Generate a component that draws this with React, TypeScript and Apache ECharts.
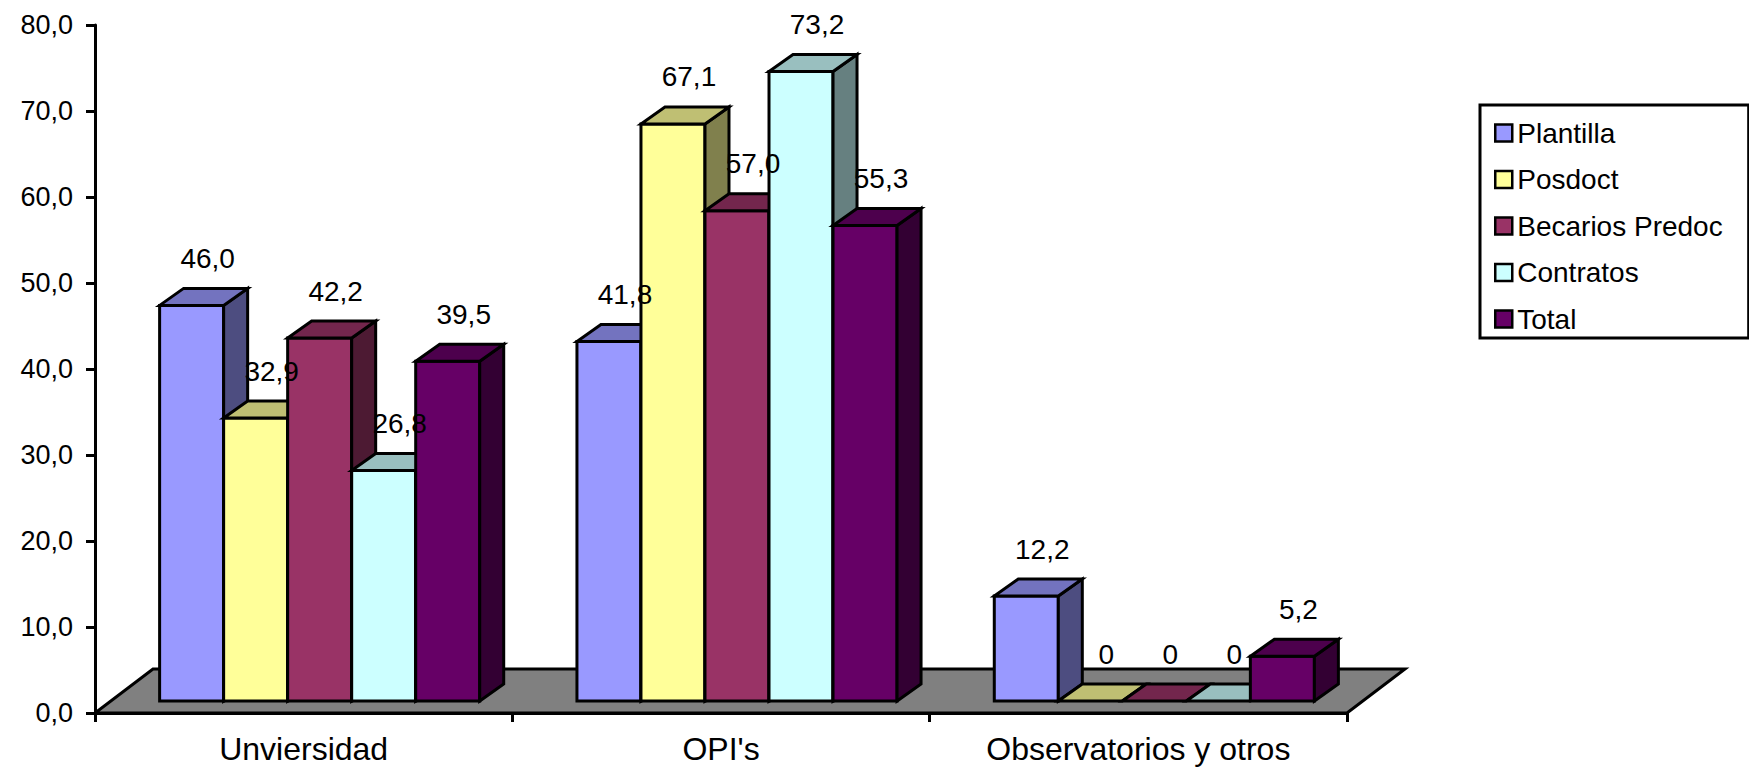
import React, { useEffect, useRef } from 'react';
import * as echarts from 'echarts';

const categories = ['Unviersidad', "OPI's", 'Observatorios y otros'];
const seriesNames = ['Plantilla', 'Posdoct', 'Becarios Predoc', 'Contratos', 'Total'];
const plantilla = [46.0, 41.8, 12.2];
const posdoct = [32.9, 67.1, 0];
const becarios = [42.2, 57.0, 0];
const contratos = [26.8, 73.2, 0];
const total = [39.5, 55.3, 5.2];
const seriesValues = [plantilla, posdoct, becarios, contratos, total];
const seriesColors = ['#9999FF', '#FFFF99', '#993366', '#CCFFFF', '#660066'];

const FONT = '"Liberation Sans", Arial, sans-serif';

// fake 3D geometry (px)
const BAR_RATIO = 0.1534;
const OX = 16; // bar front face offset from axis plane
const OY = 12;
const DX = 24; // bar depth
const DY = 17;
const FLOOR_DX = 58;
const FLOOR_DY = 44;
const EDGE = 3;

const shade = (hex: string, k: number) => {
  const n = parseInt(hex.slice(1), 16);
  const r = Math.round(((n >> 16) & 255) * k);
  const g = Math.round(((n >> 8) & 255) * k);
  const b = Math.round((n & 255) * k);
  return `rgb(${r},${g},${b})`;
};

const fmt = (v: number) => (v === 0 ? '0' : v.toFixed(1).replace('.', ','));

const App: React.FC = () => {
  const chartRef = useRef<HTMLDivElement>(null);

  useEffect(() => {
    if (!chartRef.current) return;
    const chart = echarts.init(chartRef.current, null, { renderer: 'svg' });

    const floorSeries = {
      type: 'custom',
      z: 1,
      silent: true,
      data: [[0, 0]],
      renderItem: (_params: any, api: any) => {
        const catW = api.size([1, 0])[0];
        const p0 = api.coord([0, 0]);
        const p1 = api.coord([categories.length - 1, 0]);
        const xl = p0[0] - catW / 2;
        const xr = p1[0] + catW / 2;
        const y = p0[1];
        return {
          type: 'polygon',
          shape: {
            points: [
              [xl, y],
              [xr, y],
              [xr + FLOOR_DX, y - FLOOR_DY],
              [xl + FLOOR_DX, y - FLOOR_DY],
            ],
          },
          style: { fill: '#808080', stroke: '#000', lineWidth: EDGE },
        };
      },
    };

    const barSeries = seriesNames.map((name, s) => ({
      name,
      type: 'custom',
      z: 2,
      itemStyle: { color: seriesColors[s], borderColor: '#000', borderWidth: 2.5 },
      data: seriesValues[s].map((v, i) => [i, v]),
      encode: { x: 0, y: 1 },
      renderItem: (_params: any, api: any) => {
        const ci = api.value(0);
        const v = api.value(1);
        const base = api.coord([ci, 0]);
        const top = api.coord([ci, v]);
        const catW = api.size([1, 0])[0];
        const bw = catW * BAR_RATIO;
        const x0 = base[0] - 2.5 * bw + s * bw + OX;
        const yb = base[1] - OY;
        const yt = top[1] - OY;
        const color = seriesColors[s];
        const stroke = { stroke: '#000', lineWidth: EDGE, lineJoin: 'miter' };
        const children: any[] = [];
        if (v > 0) {
          children.push({
            type: 'rect',
            z2: s * 10 + 1,
            shape: { x: x0, y: yt, width: bw, height: yb - yt },
            style: { fill: color, ...stroke },
          });
          children.push({
            type: 'polygon',
            z2: s * 10 + 1,
            shape: {
              points: [
                [x0 + bw, yt],
                [x0 + bw + DX, yt - DY],
                [x0 + bw + DX, yb - DY],
                [x0 + bw, yb],
              ],
            },
            style: { fill: shade(color, 0.5), ...stroke },
          });
        }
        children.push({
          type: 'polygon',
          z2: s * 10 + 1,
          shape: {
            points: [
              [x0, yt],
              [x0 + bw, yt],
              [x0 + bw + DX, yt - DY],
              [x0 + DX, yt - DY],
            ],
          },
          style: { fill: shade(color, 0.75), ...stroke },
        });
        children.push({
          type: 'text',
          z2: 100,
          style: {
            text: fmt(v),
            x: x0 + bw / 2 + 16,
            y: yt - DY - 16,
            align: 'center',
            verticalAlign: 'bottom',
            fontSize: 28,
            fontFamily: FONT,
            fill: '#000',
          },
        });
        return { type: 'group', children };
      },
    }));

    chart.setOption({
      animation: false,
      grid: {
        left: 95,
        top: 25,
        width: 1252,
        height: 688,
        outerBoundsMode: 'none',
      },
      legend: {
        data: seriesNames,
        orient: 'vertical',
        left: 1480,
        top: 105,
        padding: [14, 26, 5, 14],
        borderColor: '#000',
        borderWidth: 3,
        icon: 'rect',
        itemWidth: 17,
        itemHeight: 17,
        itemGap: 18.5,
        itemStyle: { borderColor: '#000', borderWidth: 2.5 },
        textStyle: { fontSize: 28, fontFamily: FONT, color: '#000' },
      },
      xAxis: {
        type: 'category',
        data: categories,
        axisLine: { lineStyle: { color: '#000', width: 3 } },
        axisTick: { show: true, interval: 0, length: 9, lineStyle: { color: '#000', width: 3 } },
        axisLabel: { margin: 20, fontSize: 32, fontFamily: FONT, color: '#000', interval: 0 },
      },
      yAxis: {
        type: 'value',
        min: 0,
        max: 80,
        interval: 10,
        axisLine: { show: true, lineStyle: { color: '#000', width: 3 } },
        axisTick: { show: true, length: 9, lineStyle: { color: '#000', width: 3 } },
        splitLine: { show: false },
        axisLabel: {
          margin: 22,
          fontSize: 27,
          fontFamily: FONT,
          color: '#000',
          formatter: (v: number) => v.toFixed(1).replace('.', ','),
        },
      },
      series: [floorSeries, ...barSeries],
    });

    return () => {
      chart.dispose();
    };
  }, []);

  return (
    <div
      ref={chartRef}
      style={{ position: 'absolute', left: 0, top: 0, width: '1749px', height: '769px', background: '#fff' }}
    />
  );
};

export default App;
